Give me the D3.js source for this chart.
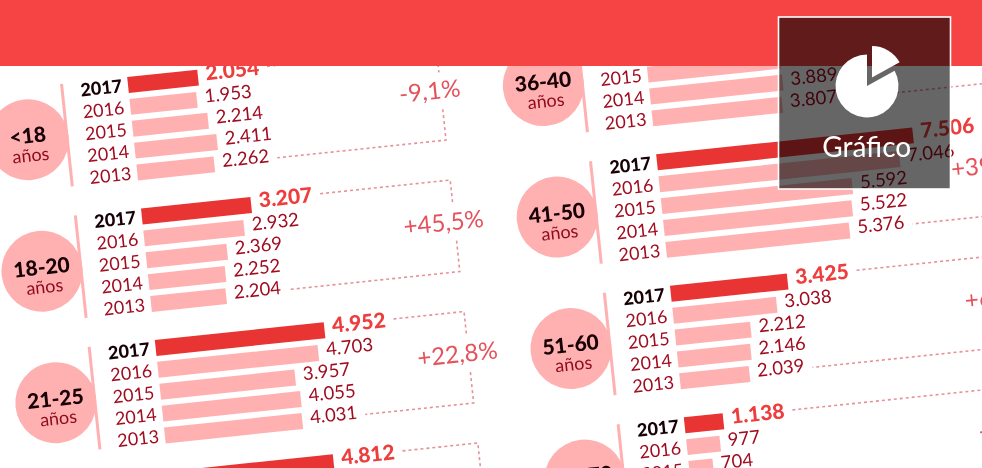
<!DOCTYPE html>
<html>
<head>
<meta charset="utf-8">
<script src="https://cdn.jsdelivr.net/npm/d3@7/dist/d3.min.js"></script>
<style>
html,body{margin:0;padding:0;background:#fff;overflow:hidden}
svg{display:block;filter:blur(0.35px)}
text{font-family:Lato,"Open Sans",sans-serif}
</style>
</head>
<body>
<svg id="c" width="982" height="468"></svg>
<script>
// ---- data ----
const years = ["2017","2016","2015","2014","2013"];
const ageLabels = ["<18","18-20","21-25","26-35","36-40","41-50","51-60","61-70"];
const unitLabel = "años";
const under18  = [2054,1953,2214,2411,2262];
const age18_20 = [3207,2932,2369,2252,2204];
const age21_25 = [4952,4703,3957,4055,4031];
const age26_35 = [4812,null,null,null,null];
const age36_40 = [null,null,3880,3889,3807];
const age41_50 = [7506,7046,5592,5522,5376];
const age51_60 = [3425,3038,2212,2146,2039];
const age61_70 = [1138,977,704,null,null];
const seriesByAge = [under18,age18_20,age21_25,age26_35,age36_40,age41_50,age51_60,age61_70];
const changeLabels = ["-9,1%","+45,5%","+22,8%",null,null,"+39,6%","+68,0%","+72,4%"];
const columnIndex = [0,0,0,0,1,1,1,1];
const rowIndex    = [0,1,2,3,0,1,2,3];
const badgeLabel = "Gráfico";
const badgeShares = [17,83];

// ---- scales ----
const W = 982, H = 468, tilt = -6;
const x = d3.scaleLinear().domain([0,1000]).range([0,34.3]);
const yRow = d3.scalePoint().domain(years).range([0,88]);
const colX = d3.scaleLinear().domain([0,1]).range([0,518]);
const rowY = d3.scaleLinear().domain([0,1]).range([0,132.2]);
const gutter = d3.scaleOrdinal().domain([0,1]).range([310.5,343]);
const fmt = d3.formatLocale({decimal:",",thousands:".",grouping:[3],currency:["","€"]}).format(",d");

const cRed="#e93434", cPink="#ffb1b1", cDark="#a00c20", cHot="#ee3d3d", cDash="#e8909a", cPct="#e4525c";

const svg = d3.select("#c");
const root = svg.append("g").attr("transform",`translate(128,85) rotate(${tilt})`);

const groups = root.selectAll("g.age").data(ageLabels.map((label,i)=>({
  label, values:seriesByAge[i], change:changeLabels[i], col:columnIndex[i], row:rowIndex[i]
}))).join("g").attr("class","age")
  .attr("transform",d=>`translate(${colX(d.col)},${rowY(d.row)})`);

groups.each(function(d){
  const g = d3.select(this);
  // badge circle and rule
  g.append("circle").attr("cx",-105).attr("cy",44).attr("r",40.5).attr("fill",cPink);
  g.append("line").attr("x1",-66).attr("x2",-66).attr("y1",-8).attr("y2",95)
    .attr("stroke",cPink).attr("stroke-width",3);
  g.append("text").attr("x",-105).attr("y",47.5).attr("text-anchor","middle")
    .attr("font-size",21).attr("font-weight",900).attr("fill","#170006").text(d.label);
  g.append("text").attr("x",-104).attr("y",66).attr("text-anchor","middle")
    .attr("font-size",18).attr("fill","#8e0a1c").text(unitLabel);

  const rows = years.map((y,i)=>({year:y,value:d.values[i]}));
  // year labels
  g.selectAll("text.yr").data(rows).join("text").attr("class","yr")
    .attr("x",-6).attr("y",r=>yRow(r.year)+6.5).attr("text-anchor","end")
    .attr("font-size",r=>r.year==="2017"?18:18)
    .attr("font-weight",r=>r.year==="2017"?900:400)
    .attr("fill",r=>r.year==="2017"?"#170006":cDark).text(r=>r.year);
  // bars
  const known = rows.filter(r=>r.value!==null);
  g.selectAll("rect.bar").data(known).join("rect").attr("class","bar")
    .attr("x",0).attr("y",r=>yRow(r.year)-8).attr("height",16)
    .attr("width",r=>x(r.value)).attr("fill",r=>r.year==="2017"?cRed:cPink);
  // value labels
  const vals = g.selectAll("text.val").data(known).join("text").attr("class","val")
    .attr("x",r=>x(r.value)+8).attr("y",r=>yRow(r.year)+(r.year==="2017"?3.5:3.5))
    .attr("font-size",r=>r.year==="2017"?21:18.5)
    .attr("font-weight",r=>r.year==="2017"?900:400)
    .attr("fill",r=>r.year==="2017"?cHot:cDark).text(r=>fmt(r.value));

  // dotted connectors
  const gx = gutter(d.col);
  const labelEnd = yr => {
    let end = null;
    vals.each(function(r){ if(r.year===yr) end = x(r.value)+8+this.getComputedTextLength(); });
    return end;
  };
  const topY = -4, botY = 88, gapTop = 20, gapBot = 57;
  const top = labelEnd("2017"), bot = labelEnd("2013");
  const dash = pts => g.append("path").attr("d",d3.line()(pts)).attr("fill","none")
    .attr("stroke",cDash).attr("stroke-width",1.6).attr("stroke-dasharray","3 3");
  dash(top!==null ? [[top+8,topY],[gx,topY],[gx,gapTop]] : [[gx,topY],[gx,gapTop]]);
  dash(bot!==null ? [[gx,gapBot],[gx,botY],[bot+8,botY]] : [[gx,gapBot],[gx,botY]]);
  if(d.change) g.append("text").attr("x",gx-11).attr("y",46).attr("text-anchor","middle")
    .attr("font-size",24).attr("fill",cPct).text(d.change);
});

// ---- header band and badge ----
svg.append("rect").attr("width",W).attr("height",66).attr("fill","#f64444");
svg.append("rect").attr("x",778.5).attr("y",17).attr("width",172).attr("height",172)
  .attr("fill","#000").attr("fill-opacity",0.6).attr("stroke","#fff").attr("stroke-width",1.6);
const pie = d3.pie().sort(null).value(v=>v)(badgeShares);
const arc = d3.arc().innerRadius(0).outerRadius(31.5);
svg.append("path").attr("d",arc(pie[0])).attr("fill","#fff")
  .attr("transform","translate(872,77.5)");
svg.append("path").attr("d",arc(pie[1])).attr("fill","#fff")
  .attr("transform","translate(867,86)");
svg.append("text").attr("x",866.7).attr("y",157).attr("text-anchor","middle")
  .attr("font-size",28).attr("fill","#fff").text(badgeLabel);
</script>
</body>
</html>
